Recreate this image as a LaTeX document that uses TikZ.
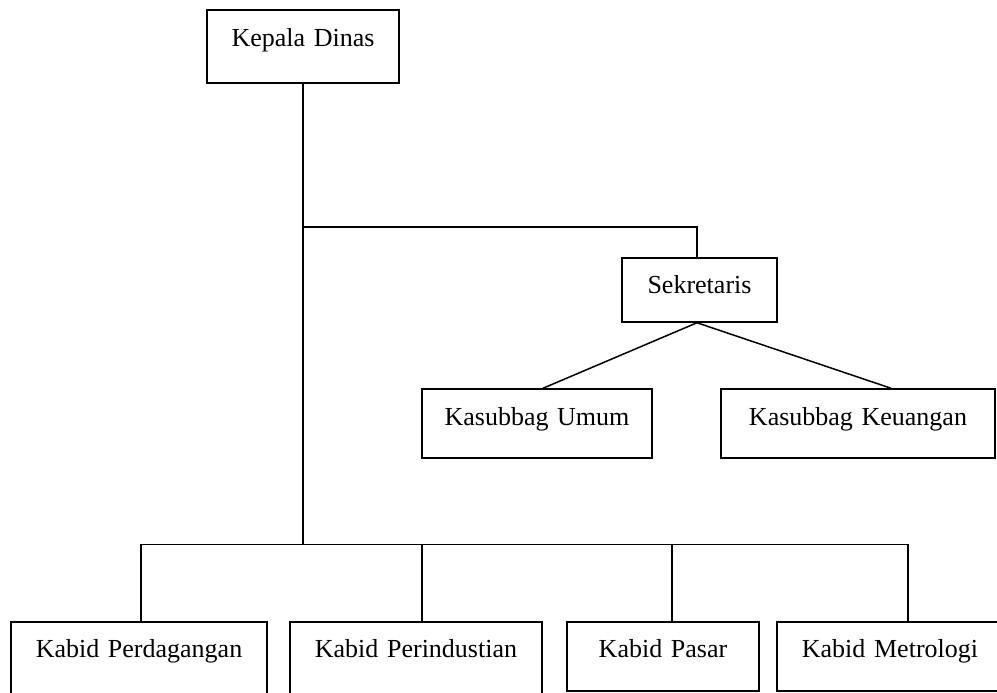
\documentclass[tikz,border=0pt]{standalone}
\usepackage{fontspec}
\setmainfont{Liberation Serif}
\begin{document}
\begin{tikzpicture}[x=1bp,y=-1bp,
  box/.style={draw, line width=1.5bp, inner sep=0pt, align=center, anchor=base,
    font=\fontsize{26bp}{30bp}\selectfont},
  link/.style={line width=1.5bp}]
\useasboundingbox (0,0) rectangle (997,693);
\clip (0,0) rectangle (997,693);
% boxes
\node[box, text width=192bp, text height=37bp, text depth=36bp] (kd) at (303,47) {Kepala Dinas};
\node[box, text width=155bp, text height=35bp, text depth=29bp] (sek) at (699.5,293) {Sekretaris};
\node[box, text width=230bp, text height=36bp, text depth=33bp] (ku) at (537,425) {Kasubbag Umum};
\node[box, text width=274bp, text height=36bp, text depth=33bp] (kk) at (858,425) {Kasubbag Keuangan};
\node[box, text width=256bp, text height=35bp, text depth=45bp] (pd) at (139,657) {Kabid Perdagangan};
\node[box, text width=252bp, text height=35bp, text depth=45bp] (pi) at (416,657) {Kabid Perindustian};
\node[box, text width=192bp, text height=35bp, text depth=34bp] (ps) at (663,657) {Kabid Pasar};
\node[box, text width=226bp, text height=35bp, text depth=34bp] (mt) at (890,657) {Kabid Metrologi};
% connectors
\coordinate (j1) at (303,227);
\coordinate (j2) at (303,545);
\draw[link] (kd.south) -- (j2);
\draw[link] (j1) -- (j1 -| 697,0) -- (sek.north -| 697,0);
\draw[link] (sek.south -| 697,0) -- ([xshift=6bp]ku.north);
\draw[link] (sek.south -| 697,0) -- ([xshift=33bp]kk.north);
\draw[link] ([xshift=2bp]pd.north) -- ++(0,-77) -| ([xshift=18bp]mt.north);
\draw[link] ([xshift=6bp]pi.north) -- ++(0,-77);
\draw[link] ([xshift=9bp]ps.north) -- ++(0,-77);
\end{tikzpicture}
\end{document}
